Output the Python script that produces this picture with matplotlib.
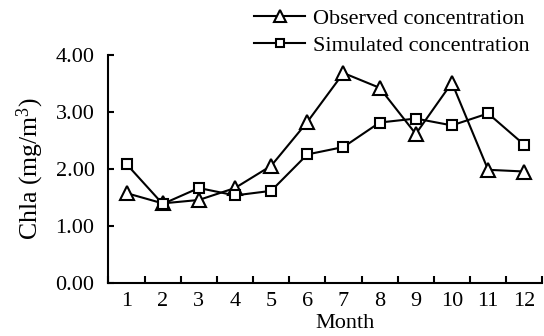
import matplotlib
matplotlib.use("Agg")
import matplotlib.pyplot as plt
import numpy as np

months = [1, 2, 3, 4, 5, 6, 7, 8, 9, 10, 11, 12]
month_labels = ["1", "2", "3", "4", "5", "6", "7", "8", "9", "10", "11", "12"]
observed = [1.57, 1.39, 1.45, 1.66, 2.05, 2.82, 3.68, 3.42, 2.61, 3.51, 1.98, 1.95]
simulated = [2.08, 1.38, 1.66, 1.53, 1.61, 2.25, 2.38, 2.81, 2.88, 2.76, 2.97, 2.42]
y_ticks = [0, 1, 2, 3, 4]
y_tick_labels = ["0.00", "1.00", "2.00", "3.00", "4.00"]

plt.rcParams['font.family'] = ['Liberation Serif', 'DejaVu Serif']
plt.rcParams['mathtext.fontset'] = 'custom'
plt.rcParams['mathtext.rm'] = 'Liberation Serif'
plt.rcParams['mathtext.it'] = 'Liberation Serif:italic'

fig = plt.figure(figsize=(5.44, 3.36), dpi=100)
ax = fig.add_axes([0.1994, 0.1592, 0.9969 - 0.1994, 0.8369 - 0.1592])

l1, = ax.plot(months, observed, color='black', lw=1.5, marker='^', ms=10,
              mfc='white', mec='black', mew=1.5, label='Observed concentration', zorder=3)
l2, = ax.plot(months, simulated, color='black', lw=1.5, marker='s', ms=7.3,
              mfc='white', mec='black', mew=1.5, label='Simulated concentration', zorder=4)

ax.set_xlim(0.5, 12.5)
ax.set_ylim(0, 4)
ax.set_xticks(months)
ax.set_xticklabels(month_labels)
ax.set_xticks(np.arange(0.5, 13.0, 1.0), minor=True)
ax.set_yticks(y_ticks)
ax.set_yticklabels(y_tick_labels)

for s in ['top', 'right']:
    ax.spines[s].set_visible(False)
for s in ['left', 'bottom']:
    ax.spines[s].set_linewidth(1.5)

ax.tick_params(axis='x', which='major', length=0, pad=6.5, labelsize=16)
ax.tick_params(axis='x', which='minor', direction='in', length=5, width=1.5)
ax.tick_params(axis='y', which='major', direction='in', length=4, width=1.5, pad=10, labelsize=16)

ax.set_ylabel("Chla (mg/m$^3$)", fontsize=18.5, labelpad=7)
fig.text(345 / 544, 1 - 324 / 336, "Month", ha='center', va='center', fontsize=16)

leg = fig.legend(handles=[l1, l2], loc='upper right', bbox_to_anchor=(0.998, 1.015),
                 frameon=False, fontsize=16, handlelength=2.3, handletextpad=0.35,
                 labelspacing=0.3, markerscale=0.8, borderaxespad=0.2)

fig.savefig("out.png", dpi=100)
